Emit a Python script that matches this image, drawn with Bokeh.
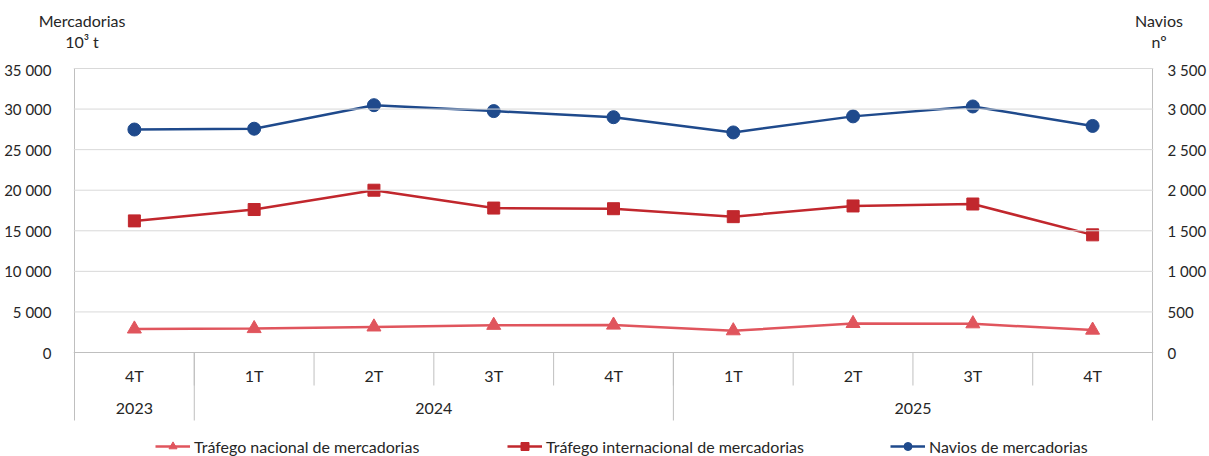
from bokeh.plotting import figure
from bokeh.layouts import column
from bokeh.models import Range1d, LinearAxis, FixedTicker, Span, Legend, LegendItem, Div
from bokeh.core.properties import value
from bokeh.embed import file_html
from bokeh.resources import INLINE

# Quarterly port traffic: goods (10^3 t) and number of ships
anos = ["2023", "2024", "2024", "2024", "2024", "2025", "2025", "2025", "2025"]
trimestres = ["4T", "1T", "2T", "3T", "4T", "1T", "2T", "3T", "4T"]
nacional = [2900, 2950, 3150, 3350, 3380, 2680, 3580, 3540, 2760]
internacional = [16220, 17620, 20000, 17800, 17720, 16740, 18060, 18300, 14500]
navios = [2748, 2758, 3048, 2975, 2900, 2712, 2910, 3032, 2792]

ticks_merc = [0, 5000, 10000, 15000, 20000, 25000, 30000, 35000]
ticks_navios = [0, 500, 1000, 1500, 2000, 2500, 3000, 3500]

titulo_esq = ["Mercadorias", "10³ t"]
titulo_dir = ["Navios", "nº"]

FONT = "Lato"
FS = "16px"
TXT = "#262626"
C_NAC = "#E0555D"
C_INT = "#C1272D"
C_NAV = "#1F4A8C"
AXIS = "#BFBFBF"
GRID = "#D9D9D9"

W = 1209
HEAD_H = 60
MAIN_H = 396

# pixel geometry of the plotting area
PLOT_H = 284            # px between 0 and 35 000
PX = ticks_merc[-1] / PLOT_H
BAND = 68               # category band under zero
BELOW = 104             # zero line to bottom of canvas (band + legend)
n = len(trimestres)
CAT_PX = 1078 / n
PAD = 1                 # keeps edge lines inside the clipped frame


def fmt(v):
    return f"{v:,}".replace(",", " ")


# header with the two axis titles
def col_html(lines, cx):
    out = ""
    for k, t in enumerate(lines):
        out += (f'<span style="position:absolute;left:{cx}px;top:{10 + 21 * k}px;'
                f'transform:translateX(-50%);white-space:nowrap">{t}</span>')
    return out


head = Div(text=('<div style="position:relative;width:1209px;height:60px;'
                 f'font-family:{FONT};font-size:{FS};color:{TXT}">'
                 + col_html(titulo_esq, 82) + col_html(titulo_dir, 1159) + '</div>'),
           width=W, height=HEAD_H, margin=0)

p = figure(width=W, height=MAIN_H, output_backend="svg", toolbar_location=None,
           x_range=Range1d(-PAD / CAT_PX, n + PAD / CAT_PX),
           y_range=Range1d(-BELOW * PX, ticks_merc[-1] + PAD * PX),
           x_axis_type=None, y_axis_type=None, margin=0,
           min_border_left=73, min_border_right=56, min_border_top=7, min_border_bottom=0)
p.outline_line_color = None
p.background_fill_color = "white"
p.border_fill_color = "white"
ratio = ticks_navios[-1] / ticks_merc[-1]
p.extra_y_ranges = {"navios": Range1d(-BELOW * PX * ratio, (ticks_merc[-1] + PAD * PX) * ratio)}

left = LinearAxis(ticker=FixedTicker(ticks=ticks_merc),
                  major_label_overrides={t: fmt(t) for t in ticks_merc})
right = LinearAxis(y_range_name="navios", ticker=FixedTicker(ticks=ticks_navios),
                   major_label_overrides={t: fmt(t) for t in ticks_navios})
for ax, standoff in ((left, 16), (right, 8)):
    ax.axis_line_color = None
    ax.major_tick_line_color = None
    ax.minor_tick_line_color = None
    ax.major_label_text_font = FONT
    ax.major_label_text_font_size = "15px"
    ax.major_label_text_color = TXT
    ax.major_label_standoff = standoff
p.add_layout(left, "left")
p.add_layout(right, "right")

# horizontal gridlines above zero, zero line in axis grey
for t in ticks_merc[1:]:
    p.add_layout(Span(location=t, dimension="width", line_color=GRID, line_width=1))
p.add_layout(Span(location=0, dimension="width", line_color=AXIS, line_width=1))

xs = [i + 0.5 for i in range(n)]

# value axis lines running down through the category band
p.segment(x0=[0, n], y0=[-BAND * PX] * 2, x1=[0, n], y1=[ticks_merc[-1]] * 2,
          line_color=AXIS, line_width=1)

# category separators: short ones between quarters, long ones between years
q_x = list(range(1, n))
p.segment(x0=q_x, y0=[0] * len(q_x), x1=q_x, y1=[-33 * PX] * len(q_x),
          line_color=AXIS, line_width=1)
y_x = [i for i in range(1, n) if anos[i] != anos[i - 1]]
p.segment(x0=y_x, y0=[0] * len(y_x), x1=y_x, y1=[-BAND * PX] * len(y_x),
          line_color=AXIS, line_width=1)

p.text(x=xs, y=[-23 * PX] * n, text=trimestres, text_font=value(FONT),
       text_font_size=FS, text_color=TXT, text_align="center", text_baseline="middle")

grupos = []
for i, a in enumerate(anos):
    if not grupos or grupos[-1][0] != a:
        grupos.append([a, i, i + 1])
    else:
        grupos[-1][2] = i + 1
p.text(x=[(g[1] + g[2]) / 2 for g in grupos], y=[-56 * PX] * len(grupos),
       text=[g[0] for g in grupos], text_font=value(FONT), text_font_size=FS,
       text_color=TXT, text_align="center", text_baseline="middle")

# series
l1 = p.line(xs, nacional, line_color=C_NAC, line_width=2.5)
m1 = p.scatter(xs, nacional, marker="triangle", size=14, fill_color=C_NAC, line_color=C_NAC)
l2 = p.line(xs, internacional, line_color=C_INT, line_width=2.5)
m2 = p.scatter(xs, internacional, marker="square", size=12, fill_color=C_INT, line_color=C_INT)
l3 = p.line(xs, navios, line_color=C_NAV, line_width=2.5, y_range_name="navios")
m3 = p.scatter(xs, navios, marker="circle", size=13, fill_color=C_NAV, line_color=C_NAV,
               y_range_name="navios")

# legend entries along the bottom of the canvas
for label, rs, x in (("Tráfego nacional de mercadorias", [l1, m1], 82),
                     ("Tráfego internacional de mercadorias", [l2, m2], 434),
                     ("Navios de mercadorias", [l3, m3], 817)):
    lg = Legend(items=[LegendItem(label=label, renderers=rs)], location=(x, 0),
                glyph_width=35, glyph_height=20, label_height=20, label_standoff=4,
                label_text_font=FONT, label_text_font_size=FS, label_text_color=TXT,
                padding=0, margin=0, border_line_color=None, background_fill_alpha=0)
    p.add_layout(lg, "center")

open("out.html", "w").write(file_html(column(head, p, spacing=0), INLINE))
